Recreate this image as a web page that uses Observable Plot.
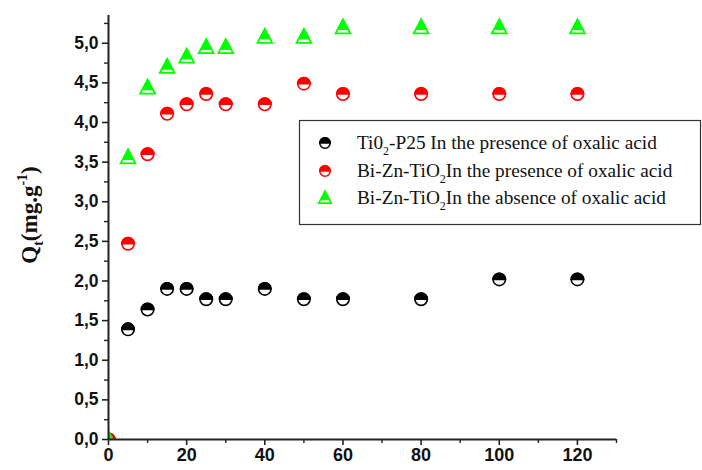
<!DOCTYPE html>
<html>
<head>
<meta charset="utf-8">
<script src="https://cdn.jsdelivr.net/npm/d3@7"></script>
<script src="https://cdn.jsdelivr.net/npm/@observablehq/plot@0.6"></script>
<style>
html,body{margin:0;padding:0;background:#fff;}
</style>
</head>
<body>
<div id="chart"></div>
<script>
const times = [0, 5, 10, 15, 20, 25, 30, 40, 50, 60, 80, 100, 120];
const p25Oxalic = [0, 1.39, 1.64, 1.90, 1.90, 1.77, 1.77, 1.90, 1.77, 1.77, 1.77, 2.02, 2.02];
const biZnOxalic = [0, 2.47, 3.60, 4.11, 4.23, 4.36, 4.23, 4.23, 4.49, 4.36, 4.36, 4.36, 4.36];
const biZnNoOxalic = [0, 3.56, 4.44, 4.70, 4.83, 4.95, 4.95, 5.08, 5.08, 5.20, 5.20, 5.20, 5.20];
const xTicks = [0, 20, 40, 60, 80, 100, 120];
const xMinor = [10, 30, 50, 70, 90, 110, 130];
const yTicks = [0, 0.5, 1, 1.5, 2, 2.5, 3, 3.5, 4, 4.5, 5];
const yMinor = [0.25, 0.75, 1.25, 1.75, 2.25, 2.75, 3.25, 3.75, 4.25, 4.75, 5.25];
const colors = ["#000000", "#ff0000", "#00ff00"];

const mk = (vals) => times.map((t, i) => ({t, q: vals[i]}));
const dP25 = mk(p25Oxalic), dRed = mk(biZnOxalic), dGreen = mk(biZnNoOxalic);

// custom symbols
const topHalfCircle = {draw(ctx, size) { const r = Math.sqrt(size / Math.PI); ctx.moveTo(-r, 0); ctx.arc(0, 0, r, Math.PI, 2 * Math.PI); ctx.closePath(); }};
const triFull = {draw(ctx, size) { const r = Math.sqrt(size / Math.PI); ctx.moveTo(0, -1.15 * r); ctx.lineTo(1.05 * r, 0.85 * r); ctx.lineTo(-1.05 * r, 0.85 * r); ctx.closePath(); }};
const triTop = {draw(ctx, size) { const r = Math.sqrt(size / Math.PI); const yb = 0.3 * r; const hw = 1.05 * r * (yb + 1.15 * r) / (2.0 * r); ctx.moveTo(0, -1.15 * r); ctx.lineTo(hw, yb); ctx.lineTo(-hw, yb); ctx.closePath(); }};

const halfCircleMarks = (data, color) => [
  Plot.dot(data, {x: "t", y: "q", r: 6.2, symbol: "circle", fill: "white", stroke: color, strokeWidth: 1.6, clip: true}),
  Plot.dot(data, {x: "t", y: "q", r: 6.2, symbol: topHalfCircle, fill: color, stroke: color, strokeWidth: 1.6, clip: true})
];
const triMarks = (data, color) => [
  Plot.dot(data, {x: "t", y: "q", r: 7, symbol: triFull, fill: "white", stroke: color, strokeWidth: 1.8, clip: true}),
  Plot.dot(data, {x: "t", y: "q", r: 7, symbol: triTop, fill: color, stroke: color, strokeWidth: 1.2, clip: true})
];

const fmt = d => d.toFixed(1).replace(".", ",");

const plot = Plot.plot({
  width: 702,
  height: 470,
  marginLeft: 108,
  marginRight: 86,
  marginTop: 15,
  marginBottom: 31,
  style: {fontFamily: "Liberation Sans, Arial, sans-serif", background: "white"},
  x: {domain: [0, 130]},
  y: {domain: [0, 5.35]},
  marks: [
    ...halfCircleMarks(dP25, colors[0]),
    ...halfCircleMarks(dRed, colors[1]),
    ...triMarks(dGreen, colors[2]),
    Plot.axisX(xTicks, {tickSize: 6, tickPadding: 3, strokeWidth: 1.6, stroke: "#222", fontSize: 18, fontWeight: "bold", fill: "#111", label: null}),
    Plot.axisX(xMinor, {tickSize: 4, strokeWidth: 1.4, stroke: "#222", text: null, label: null}),
    Plot.axisY(yTicks, {tickSize: 6, tickPadding: 4, strokeWidth: 1.6, stroke: "#222", fontSize: 17.5, fontWeight: "bold", fill: "#111", tickFormat: fmt, label: null}),
    Plot.axisY(yMinor, {tickSize: 4, strokeWidth: 1.4, stroke: "#222", text: null, label: null}),
    Plot.ruleX([0], {stroke: "#222", strokeWidth: 2}),
    Plot.ruleY([0], {stroke: "#222", strokeWidth: 2})
  ]
});
document.getElementById("chart").appendChild(plot);

const svg = d3.select(plot);
// y-axis label
const yl = svg.append("text")
  .attr("transform", "translate(37,215) rotate(-90)")
  .attr("text-anchor", "middle")
  .style("font-family", "Liberation Serif, Times New Roman, serif")
  .style("font-weight", "bold")
  .style("font-size", "23px")
  .attr("fill", "#111");
yl.append("tspan").text("Q");
yl.append("tspan").attr("dy", 6).style("font-size", "14px").text("t");
yl.append("tspan").attr("dy", -6).text("(mg.g");
yl.append("tspan").attr("dy", -10).style("font-size", "14px").text("-1");
yl.append("tspan").attr("dy", 10).text(")");

// legend
const lg = svg.append("g");
lg.append("rect").attr("x", 299.5).attr("y", 120.5).attr("width", 401).attr("height", 104)
  .attr("fill", "white").attr("stroke", "#333").attr("stroke-width", 1.2);
const rows = [
  {y: 143, color: colors[0], type: "c", parts: ["Ti0", "2", "-P25 In the presence of oxalic acid"]},
  {y: 171, color: colors[1], type: "c", parts: ["Bi-Zn-TiO", "2", "In the presence of oxalic acid"]},
  {y: 198, color: colors[2], type: "t", parts: ["Bi-Zn-TiO", "2", "In the absence of oxalic acid"]}
];
rows.forEach(row => {
  const g = lg.append("g").attr("transform", `translate(325,${row.y})`);
  const r = 5.2;
  if (row.type === "c") {
    g.append("circle").attr("r", r).attr("fill", "white").attr("stroke", row.color).attr("stroke-width", 1.5);
    g.append("path").attr("d", `M${-r},0A${r},${r} 0 0 1 ${r},0Z`).attr("fill", row.color).attr("stroke", row.color).attr("stroke-width", 1.5);
  } else {
    g.append("path").attr("d", d3.symbol(triFull, Math.PI * 36)()).attr("fill", "white").attr("stroke", row.color).attr("stroke-width", 1.6);
    g.append("path").attr("d", d3.symbol(triTop, Math.PI * 36)()).attr("fill", row.color).attr("stroke", row.color).attr("stroke-width", 1);
  }
  const t = lg.append("text").attr("x", 357).attr("y", row.y + 6)
    .attr("text-anchor", "start")
    .style("font-family", "Liberation Serif, Times New Roman, serif")
    .style("font-size", "19.3px").attr("fill", "#111");
  t.append("tspan").text(row.parts[0]);
  t.append("tspan").attr("dy", 6).style("font-size", "12px").text(row.parts[1]);
  t.append("tspan").attr("dy", -6).text(row.parts[2]);
});
</script>
</body>
</html>
